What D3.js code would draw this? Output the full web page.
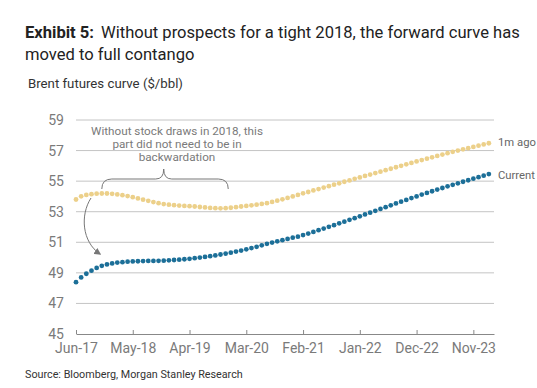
<!DOCTYPE html>
<html>
<head>
<meta charset="utf-8">
<script src="https://cdn.jsdelivr.net/npm/d3@7"></script>
<style>
body { margin:0; background:#fff; }
text { font-family: Roboto, "Liberation Sans", Arial, sans-serif; }
</style>
</head>
<body>
<div id="chart"></div>
<script>
// month index 0 = Jun-17, one point per contract month
var tickIdx = [0, 11, 22, 33, 44, 55, 66, 77];
var tickLabels = ["Jun-17","May-18","Apr-19","Mar-20","Feb-21","Jan-22","Dec-22","Nov-23"];
var yTicks = [45, 47, 49, 51, 53, 55, 57, 59];

var current = [48.39,48.70,48.94,49.14,49.32,49.46,49.55,49.62,49.67,49.70,
    49.73,49.75,49.76,49.77,49.78,49.78,49.79,49.80,49.82,49.84,
    49.86,49.89,49.92,49.96,50.00,50.04,50.09,50.14,50.20,50.26,
    50.32,50.39,50.46,50.54,50.62,50.70,50.80,50.90,50.98,51.06,
    51.14,51.22,51.30,51.37,51.47,51.57,51.68,51.79,51.90,52.01,
    52.12,52.24,52.35,52.47,52.58,52.70,52.82,52.94,53.06,53.18,
    53.30,53.42,53.54,53.66,53.77,53.89,54.00,54.12,54.23,54.34,
    54.45,54.55,54.66,54.76,54.86,54.96,55.06,55.16,55.26,55.36,55.46];

var monthAgo = [53.80,54.01,54.10,54.15,54.18,54.19,54.19,54.17,54.13,54.08,
    54.02,53.95,53.87,53.79,53.71,53.63,53.56,53.50,53.46,53.43,
    53.40,53.38,53.36,53.34,53.31,53.28,53.25,53.23,53.22,53.23,
    53.26,53.30,53.34,53.38,53.42,53.46,53.51,53.56,53.64,53.72,
    53.81,53.90,54.00,54.10,54.20,54.29,54.39,54.48,54.58,54.67,
    54.77,54.86,54.96,55.05,55.15,55.24,55.34,55.43,55.53,55.62,
    55.72,55.81,55.91,56.00,56.10,56.19,56.29,56.38,56.47,56.56,
    56.65,56.74,56.83,56.92,57.00,57.08,57.16,57.24,57.32,57.40,57.48];

var noteLines = ["Without stock draws in 2018, this", "part did not need to be in", "backwardation"];

var width = 537, height = 388;
var svg = d3.select("#chart").append("svg")
    .attr("width", width).attr("height", height);

var x = d3.scaleLinear().domain([0, 81]).range([76, 494]);
var y = d3.scaleLinear().domain([45, 59]).range([334, 120]);

// shrink a text's font until it spans the given width
function fitWidth(sel, target) {
    var size = parseFloat(sel.style("font-size"));
    var w = sel.node().getComputedTextLength();
    sel.style("font-size", (size * target / w).toFixed(2) + "px");
    return sel;
}

// title
var title = svg.append("text").attr("x", 25).attr("y", 38)
    .style("font-size", "18px").style("fill", "#222");
title.append("tspan").style("font-weight", "bold").text("Exhibit 5:");
title.append("tspan").attr("dx", 7).text("Without prospects for a tight 2018, the forward curve has");
fitWidth(title, 488);
svg.append("text").attr("x", 25).attr("y", 60)
    .style("font-size", title.style("font-size")).style("fill", "#222")
    .text("moved to full contango");

fitWidth(svg.append("text").attr("x", 28).attr("y", 88)
    .style("font-size", "13px").style("fill", "#333")
    .text("Brent futures curve ($/bbl)"), 155);

// gridlines
svg.append("g").selectAll("line")
    .data(yTicks.slice(1)).enter().append("line")
    .attr("x1", 76).attr("x2", 494)
    .attr("y1", d => y(d)).attr("y2", d => y(d))
    .style("stroke", "#c4c4c4").style("stroke-width", 1);

var yAxis = d3.axisLeft(y).tickValues(yTicks).tickSize(0).tickPadding(12);
svg.append("g").attr("transform", "translate(76,0)").call(yAxis)
    .call(g => g.select(".domain").remove())
    .selectAll("text").style("font-size", "14px").style("fill", "#7a7a7a")
    .style("font-family", "Roboto, 'Liberation Sans', Arial, sans-serif");

var xAxis = d3.axisBottom(x).tickValues(tickIdx)
    .tickFormat((d, i) => tickLabels[i]).tickSize(-4).tickPadding(9).tickSizeOuter(0);
var gx = svg.append("g").attr("transform", "translate(0," + y(45) + ")").call(xAxis);
gx.select(".domain").style("stroke", "#888");
gx.selectAll(".tick line").style("stroke", "#888");
gx.selectAll("text").style("font-size", "14px").style("fill", "#7a7a7a")
    .style("font-family", "Roboto, 'Liberation Sans', Arial, sans-serif");

// series dots
function drawDots(data, color) {
    svg.append("g").selectAll("circle")
        .data(data).enter().append("circle")
        .attr("cx", (d, i) => x(i))
        .attr("cy", d => y(d))
        .attr("r", 2.4)
        .style("fill", color);
}
drawDots(monthAgo, "#ecd08a");
drawDots(current, "#1c6f98");

var lblCur = svg.append("text").attr("x", 498).attr("y", y(current[current.length-1]) + 5)
    .style("font-size", "12.5px").style("fill", "#666").text("Current");
fitWidth(lblCur, 37);
svg.append("text").attr("x", 498).attr("y", y(monthAgo[monthAgo.length-1]) + 3)
    .style("font-size", lblCur.style("font-size")).style("fill", "#666").text("1m ago");

// annotation
var note = svg.append("g").selectAll("text").data(noteLines).enter().append("text")
    .attr("x", 177).attr("y", (d, i) => 134.5 + i * 13.3)
    .attr("text-anchor", "middle")
    .style("font-size", "12.5px").style("fill", "#7a7a7a")
    .text(d => d);
fitWidth(d3.select(note.nodes()[0]), 172);
note.style("font-size", d3.select(note.nodes()[0]).style("font-size"));

// brace over the backwardated part
var bx0 = x(5), bx1 = x(29.5), bm = x(17), by = 179;
svg.append("path")
    .attr("d", "M" + bx0 + "," + (by + 10) + " Q" + bx0 + "," + by + " " + (bx0 + 10) + "," + by +
        " L" + (bm - 8) + "," + by + " Q" + bm + "," + by + " " + bm + "," + (by - 10) +
        " Q" + bm + "," + by + " " + (bm + 8) + "," + by +
        " L" + (bx1 - 10) + "," + by + " Q" + bx1 + "," + by + " " + bx1 + "," + (by + 10))
    .style("fill", "none").style("stroke", "#777").style("stroke-width", 1);

// arrow from old curve down to the current one
var defs = svg.append("defs");
defs.append("marker").attr("id", "arr").attr("viewBox", "0 0 10 10")
    .attr("refX", 8).attr("refY", 5).attr("markerWidth", 7).attr("markerHeight", 7)
    .attr("orient", "auto")
    .append("path").attr("d", "M0,0 L10,5 L0,10 z").style("fill", "#777");
svg.append("path")
    .attr("d", "M91,198 C80,215 82,242 100,254")
    .attr("marker-end", "url(#arr)")
    .style("fill", "none").style("stroke", "#777").style("stroke-width", 1);

fitWidth(svg.append("text").attr("x", 25).attr("y", 378)
    .style("font-size", "11.5px").style("fill", "#333")
    .text("Source: Bloomberg, Morgan Stanley Research"), 218);
</script>
</body>
</html>
